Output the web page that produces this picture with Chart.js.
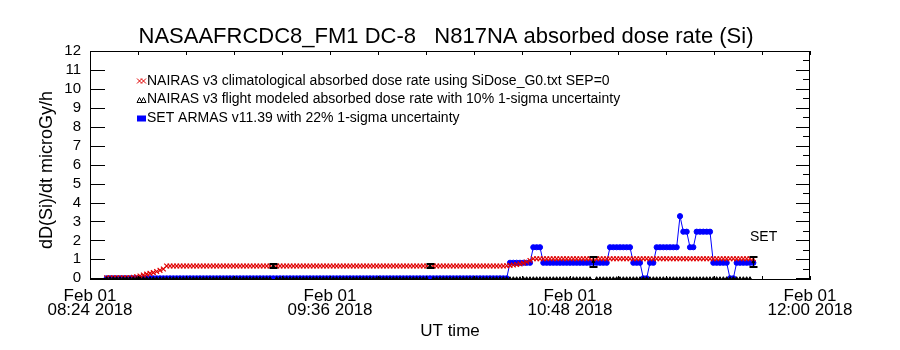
<!DOCTYPE html>
<html>
<head>
<meta charset="utf-8">
<script src="https://cdn.jsdelivr.net/npm/chart.js@4.4.0/dist/chart.umd.min.js"></script>
<style>
  body { margin: 0; background: #fff; }
  #wrap { width: 900px; height: 350px; }
</style>
</head>
<body>
<div id="wrap"><canvas id="doseChart" width="900" height="350"></canvas></div>
<script>
// minutes after 08:24 UT, Feb 01 2018
const minutes = [
    5, 6, 7, 8, 9, 10, 11, 12, 13, 14, 15, 16, 17, 18, 19,
    20, 21, 22, 23, 24, 25, 26, 27, 28, 29, 30, 31, 32, 33, 34,
    35, 36, 37, 38, 39, 40, 41, 42, 43, 44, 45, 46, 47, 48, 49,
    50, 51, 52, 53, 54, 55, 56, 57, 58, 59, 60, 61, 62, 63, 64,
    65, 66, 67, 68, 69, 70, 71, 72, 73, 74, 75, 76, 77, 78, 79,
    80, 81, 82, 83, 84, 85, 86, 87, 88, 89, 90, 91, 92, 93, 94,
    95, 96, 97, 98, 99, 100, 101, 102, 103, 104, 105, 106, 107, 108, 109,
    110, 111, 112, 113, 114, 115, 116, 117, 118, 119, 120, 121, 122, 123, 124,
    125, 126, 127, 128, 129, 130, 131, 132, 133, 134, 135, 136, 137, 138, 139,
    140, 141, 142, 143, 144, 145, 146, 147, 148, 149, 150, 151, 152, 153, 154,
    155, 156, 157, 158, 159, 160, 161, 162, 163, 164, 165, 166, 167, 168, 169,
    170, 171, 172, 173, 174, 175, 176, 177, 178, 179, 180, 181, 182, 183, 184,
    185, 186, 187, 188, 189, 190, 191, 192, 193, 194, 195, 196, 197, 198, 199
];

// NAIRAS climatological dose rate
const climValues = [
    0.03, 0.03, 0.03, 0.03, 0.03, 0.03, 0.03, 0.03, 0.05, 0.08, 0.12, 0.17, 0.22, 0.26, 0.30,
    0.36, 0.42, 0.49, 0.65, 0.65, 0.65, 0.65, 0.65, 0.65, 0.65, 0.65, 0.65, 0.65, 0.65, 0.65,
    0.65, 0.65, 0.65, 0.65, 0.65, 0.65, 0.65, 0.65, 0.65, 0.65, 0.65, 0.65, 0.65, 0.65, 0.65,
    0.65, 0.65, 0.65, 0.65, 0.65, 0.65, 0.65, 0.65, 0.65, 0.65, 0.65, 0.65, 0.65, 0.65, 0.65,
    0.65, 0.65, 0.65, 0.65, 0.65, 0.65, 0.65, 0.65, 0.65, 0.65, 0.65, 0.65, 0.65, 0.65, 0.65,
    0.65, 0.65, 0.65, 0.65, 0.65, 0.65, 0.65, 0.65, 0.65, 0.65, 0.65, 0.65, 0.65, 0.65, 0.65,
    0.65, 0.65, 0.65, 0.65, 0.65, 0.65, 0.65, 0.65, 0.65, 0.65, 0.65, 0.65, 0.65, 0.65, 0.65,
    0.65, 0.65, 0.65, 0.65, 0.65, 0.65, 0.65, 0.65, 0.65, 0.65, 0.65, 0.65, 0.65, 0.65, 0.65,
    0.66, 0.68, 0.70, 0.73, 0.76, 0.80, 0.86, 0.94, 1.03, 1.03, 1.03, 1.03, 1.03, 1.03, 1.03,
    1.03, 1.03, 1.03, 1.03, 1.03, 1.03, 1.03, 1.03, 1.03, 1.03, 1.03, 1.03, 1.03, 1.03, 1.03,
    1.03, 1.03, 1.03, 1.03, 1.03, 1.03, 1.03, 1.03, 1.03, 1.03, 1.03, 1.03, 1.03, 1.03, 1.03,
    1.03, 1.03, 1.03, 1.03, 1.03, 1.03, 1.03, 1.03, 1.03, 1.03, 1.03, 1.03, 1.03, 1.03, 1.03,
    1.03, 1.03, 1.03, 1.03, 1.03, 1.03, 1.03, 1.03, 1.03, 1.03, 1.03, 1.03, 1.03, 1.03, 1.03
];

// NAIRAS flight modeled dose rate
const modelValues = [
    0, 0, 0, 0, 0, 0, 0, 0, 0, 0, 0, 0, 0, 0, 0,
    0, 0, 0, 0, 0, 0, 0, 0, 0, 0, 0, 0, 0, 0, 0,
    0, 0, 0, 0, 0, 0, 0, 0, 0, 0, 0, 0, 0, 0, 0,
    0, 0, 0, 0, 0, 0.65, 0, 0, 0, 0, 0, 0, 0, 0, 0,
    0, 0, 0, 0, 0, 0, 0, 0, 0, 0, 0, 0, 0, 0, 0,
    0, 0, 0, 0, 0, 0, 0, 0, 0, 0, 0, 0, 0, 0, 0,
    0, 0, 0, 0, 0, 0, 0, 0.65, 0, 0, 0, 0, 0, 0, 0,
    0, 0, 0, 0, 0, 0, 0, 0, 0, 0, 0, 0, 0, 0, 0,
    0, 0, 0, 0, 0, 0, 0, 0, 0, 0, 0, 0, 0, 0, 0,
    0, 0, 0, 0, 0, 0, 0, 0, 0, 0, 0, 0.88, 0, 0, 0,
    0, 0, 0, 0, 0, 0, 0, 0, 0, 0, 0, 0, 0, 0, 0,
    0, 0, 0, 0, 0, 0, 0, 0, 0, 0, 0, 0, 0, 0, 0,
    0, 0, 0, 0, 0, 0, 0, 0, 0, 0, 0, 0, 0, 0, 0.86
];

// 1-sigma bars on the modeled points
const errTimes = [55, 102, 151, 199];
const errValues = [0.65, 0.65, 0.88, 0.86];
const errSizes = [0.10, 0.10, 0.27, 0.28];

// SET ARMAS measured dose rate
const armasValues = [
    0, 0, 0, 0, 0, 0, 0, 0, 0, 0, 0, 0, 0, 0, 0,
    0, 0, 0, 0, 0, 0, 0, 0, 0, 0, 0, 0, 0, 0, 0,
    0, 0, 0, 0, 0, 0, 0, 0, 0, 0, 0, 0, 0, 0, 0,
    0, 0, 0, 0, 0, 0, 0, 0, 0, 0, 0, 0, 0, 0, 0,
    0, 0, 0, 0, 0, 0, 0, 0, 0, 0, 0, 0, 0, 0, 0,
    0, 0, 0, 0, 0, 0, 0, 0, 0, 0, 0, 0, 0, 0, 0,
    0, 0, 0, 0, 0, 0, 0, 0, 0, 0, 0, 0, 0, 0, 0,
    0, 0, 0, 0, 0, 0, 0, 0, 0, 0, 0, 0, 0, 0, 0,
    0, 0.82, 0.82, 0.82, 0.82, 0.82, 0.82, 0.82, 1.64, 1.64, 1.64, 0.82, 0.82, 0.82, 0.82,
    0.82, 0.82, 0.82, 0.82, 0.82, 0.82, 0.82, 0.82, 0.82, 0.82, 0.82, 0.82, 0.82, 0.82, 0.82,
    0.82, 1.64, 1.64, 1.64, 1.64, 1.64, 1.64, 1.64, 0.82, 0.82, 0.82, 0, 0, 0.82, 0.82,
    1.64, 1.64, 1.64, 1.64, 1.64, 1.64, 1.64, 3.28, 2.46, 2.46, 1.64, 1.64, 2.46, 2.46, 2.46,
    2.46, 2.46, 0.82, 0.82, 0.82, 0.82, 0.82, 0, 0, 0.82, 0.82, 0.82, 0.82, 0.82, 0.82
];

const xTickValues = [0, 72, 144, 216];
const xTickLabels = [
    ['Feb 01', '08:24 2018'],
    ['Feb 01', '09:36 2018'],
    ['Feb 01', '10:48 2018'],
    ['Feb 01', '12:00 2018']
];
const yTickValues = [0, 1, 2, 3, 4, 5, 6, 7, 8, 9, 10, 11, 12];

const titleText = 'NASAAFRCDC8_FM1 DC-8   N817NA absorbed dose rate (Si)';
const yTitle = 'dD(Si)/dt microGy/h';
const xTitle = 'UT time';
const seriesLabels = [
    'NAIRAS v3 climatological absorbed dose rate using SiDose_G0.txt SEP=0',
    'NAIRAS v3 flight modeled absorbed dose rate with 10% 1-sigma uncertainty',
    'SET ARMAS v11.39 with 22% 1-sigma uncertainty'
];

const FONT = '"Liberation Sans", Arial, sans-serif';

function pairs(vals) {
    return minutes.map((m, i) => ({ x: m, y: vals[i] }));
}

// ticks, frame, error bars and all the free text
const framePlugin = {
    id: 'frame',
    afterDatasetsDraw(chart) {
        const { ctx, chartArea: a, scales: { x, y } } = chart;
        ctx.save();
        ctx.strokeStyle = '#000';

        // error bars
        errTimes.forEach((t, i) => {
            const px = Math.round(x.getPixelForValue(t)) + 0.5;
            const top = Math.round(y.getPixelForValue(errValues[i] + errSizes[i]));
            const bot = Math.round(y.getPixelForValue(errValues[i] - errSizes[i]));
            ctx.lineWidth = 1;
            ctx.beginPath();
            ctx.moveTo(px, top);
            ctx.lineTo(px, bot);
            ctx.stroke();
            ctx.lineWidth = 2;
            ctx.beginPath();
            ctx.moveTo(px - 4, top);
            ctx.lineTo(px + 4, top);
            ctx.moveTo(px - 4, bot);
            ctx.lineTo(px + 4, bot);
            ctx.stroke();
        });

        // box
        ctx.lineWidth = 1;
        ctx.strokeRect(a.left + 0.5, a.top + 0.5, a.right - a.left - 1, a.bottom - a.top - 1);

        ctx.beginPath();
        // left ticks
        yTickValues.forEach(v => {
            const py = Math.round(y.getPixelForValue(v)) + 0.5;
            ctx.moveTo(a.left, py);
            ctx.lineTo(a.left + 15, py);
        });
        // right ticks, with minor ones
        for (let v = 0; v <= 12; v += 0.5) {
            const py = Math.round(y.getPixelForValue(v)) + 0.5;
            const len = Number.isInteger(v) ? 14 : 7;
            ctx.moveTo(a.right, py);
            ctx.lineTo(a.right - len, py);
        }
        // top and bottom ticks
        for (let k = 0; k <= 15; k++) {
            const px = Math.round(x.getPixelForValue(k * 14.4)) + 0.5;
            ctx.moveTo(px, a.top);
            ctx.lineTo(px, a.top + 4);
            ctx.moveTo(px, a.bottom);
            ctx.lineTo(px, a.bottom - 4);
        }
        ctx.stroke();

        // text
        ctx.fillStyle = '#000';
        ctx.textBaseline = 'middle';
        ctx.textAlign = 'center';
        ctx.font = '22px ' + FONT;
        ctx.fillText(titleText, (a.left + a.right) / 2 - 4, 37);

        ctx.font = '17px ' + FONT;
        ctx.fillText(xTitle, (a.left + a.right) / 2, 331);

        ctx.save();
        ctx.translate(47, 170);
        ctx.rotate(-Math.PI / 2);
        ctx.font = '18px ' + FONT;
        ctx.fillText(yTitle, 0, 0);
        ctx.restore();

        ctx.textAlign = 'left';
        ctx.font = '14px ' + FONT;
        ctx.fillText('SET', x.getPixelForValue(198), y.getPixelForValue(2.17));

        // legend
        const lx = a.left + 47;
        const rows = [a.top + 30, a.top + 48.5, a.top + 67.5];
        ctx.font = '14px ' + FONT;
        seriesLabels.forEach((lab, i) => {
            ctx.fillStyle = '#000';
            ctx.fillText(lab, lx + 10, rows[i]);
        });
        // red crosses
        ctx.strokeStyle = '#e00000';
        ctx.lineWidth = 1;
        ctx.beginPath();
        [lx + 2.5, lx + 6.5].forEach(cx => {
            const cy = rows[0];
            ctx.moveTo(cx - 2.5, cy - 2.5); ctx.lineTo(cx + 2.5, cy + 2.5);
            ctx.moveTo(cx - 2.5, cy + 2.5); ctx.lineTo(cx + 2.5, cy - 2.5);
        });
        ctx.stroke();
        // black triangles
        ctx.strokeStyle = '#000';
        ctx.beginPath();
        [lx + 2.5, lx + 6.5].forEach(cx => {
            const cy = rows[1];
            ctx.moveTo(cx - 2.5, cy + 3);
            ctx.lineTo(cx, cy - 2);
            ctx.lineTo(cx + 2.5, cy + 3);
            ctx.closePath();
        });
        ctx.stroke();
        // blue box
        ctx.fillStyle = '#0000ff';
        ctx.fillRect(lx, rows[2] - 3, 9, 6);

        ctx.restore();
    }
};

const ctx = document.getElementById('doseChart').getContext('2d');

new Chart(ctx, {
    type: 'line',
    data: {
        datasets: [
            {
                label: seriesLabels[1],
                data: pairs(modelValues),
                showLine: false,
                pointStyle: 'triangle',
                pointRadius: 1.6,
                pointBorderWidth: 1,
                pointBorderColor: '#000',
                pointBackgroundColor: '#000',
                order: 0
            },
            {
                label: seriesLabels[0],
                data: pairs(climValues),
                showLine: false,
                pointStyle: 'crossRot',
                pointRadius: 3.4,
                pointBorderWidth: 1.2,
                pointBorderColor: '#e00000',
                order: 1
            },
            {
                label: seriesLabels[2],
                data: pairs(armasValues),
                borderColor: '#0000ff',
                borderWidth: 1,
                pointStyle: 'circle',
                pointRadius: 2.6,
                pointBorderWidth: 1,
                pointBorderColor: '#0000ff',
                pointBackgroundColor: '#0000ff',
                tension: 0,
                order: 2
            }
        ]
    },
    options: {
        responsive: false,
        animation: false,
        events: [],
        layout: { padding: { left: 0, right: 90, top: 51, bottom: 0 } },
        plugins: {
            legend: { display: false },
            tooltip: { enabled: false },
            title: { display: false }
        },
        scales: {
            x: {
                type: 'linear',
                min: 0,
                max: 216,
                afterBuildTicks: s => { s.ticks = xTickValues.map(v => ({ value: v })); },
                afterFit: s => { s.height = 70; },
                grid: { display: false, drawTicks: false },
                border: { display: false },
                ticks: {
                    callback: (v, i) => xTickLabels[i],
                    color: '#000',
                    font: { family: FONT, size: 17, lineHeight: 0.85 },
                    padding: 9,
                    maxRotation: 0,
                    autoSkip: false
                }
            },
            y: {
                type: 'linear',
                min: -0.09,
                max: 12,
                afterBuildTicks: s => { s.ticks = yTickValues.map(v => ({ value: v })); },
                afterFit: s => { s.width = 90; },
                grid: { display: false, drawTicks: false },
                border: { display: false },
                ticks: {
                    color: '#000',
                    font: { family: FONT, size: 15 },
                    padding: 9,
                    autoSkip: false
                }
            }
        }
    },
    plugins: [framePlugin]
});
</script>
</body>
</html>
